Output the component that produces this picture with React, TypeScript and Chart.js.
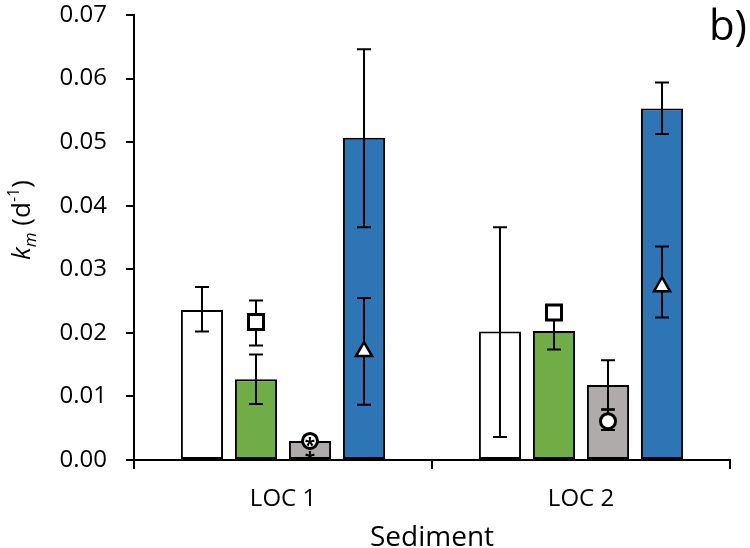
import React, { useEffect, useRef } from "react";
import { Chart, registerables } from "chart.js";

Chart.register(...registerables);

// ---------- data ----------
const categories = ["LOC 1", "LOC 2"];

const whiteValues = [0.0236, 0.0202];
const whiteLow = [0.0202, 0.0036];
const whiteHigh = [0.0272, 0.0366];

const greenValues = [0.0127, 0.0203];
const greenLow = [0.0088, 0.0174];
const greenHigh = [0.0166, 0.0232];

const grayValues = [0.003, 0.0118];
const grayLow: (number | null)[] = [null, 0.0079];
const grayHigh: (number | null)[] = [null, 0.0157];

const blueValues = [0.0507, 0.0553];
const blueLow = [0.0366, 0.0513];
const blueHigh = [0.0646, 0.0594];

// markers (drawn over green, gray and blue bars respectively)
const squareValues = [0.0217, 0.0232];
const squareLow: (number | null)[] = [0.018, null];
const squareHigh: (number | null)[] = [0.0251, null];

const circleValues = [0.003, 0.0061];
const circleLow: (number | null)[] = [null, 0.0047];
const circleHigh: (number | null)[] = [null, 0.008];

const triangleValues = [0.0173, 0.0275];
const triangleLow = [0.0087, 0.0224];
const triangleHigh = [0.0255, 0.0336];

// asterisk annotations on the gray series (LOC 1 only)
const asteriskValues: number[][] = [[0.003, 0.0008], []];

const yMin = 0;
const yMax = 0.07;
const yStep = 0.01;

const FONT = '"Open Sans", "DejaVu Sans", sans-serif';

const barErrors = [
  { series: 0, low: whiteLow, high: whiteHigh },
  { series: 1, low: greenLow, high: greenHigh },
  { series: 2, low: grayLow, high: grayHigh },
  { series: 3, low: blueLow, high: blueHigh },
];

const markers = [
  { series: 1, shape: "square", values: squareValues, low: squareLow, high: squareHigh },
  { series: 2, shape: "circle", values: circleValues, low: circleLow, high: circleHigh },
  { series: 3, shape: "triangle", values: triangleValues, low: triangleLow, high: triangleHigh },
];

const overlayPlugin = {
  id: "overlay",
  afterDatasetsDraw(chart: any) {
    const ctx: CanvasRenderingContext2D = chart.ctx;
    const ys = chart.scales.y;
    const cap = 7;
    const errBar = (x: number, lo: number, hi: number) => {
      const y1 = ys.getPixelForValue(lo);
      const y2 = ys.getPixelForValue(hi);
      ctx.save();
      ctx.strokeStyle = "#000";
      ctx.lineWidth = 2;
      ctx.beginPath();
      ctx.moveTo(x, y1);
      ctx.lineTo(x, y2);
      ctx.moveTo(x - cap, y1);
      ctx.lineTo(x + cap, y1);
      ctx.moveTo(x - cap, y2);
      ctx.lineTo(x + cap, y2);
      ctx.stroke();
      ctx.restore();
    };
    barErrors.forEach((e) => {
      const meta = chart.getDatasetMeta(e.series);
      meta.data.forEach((el: any, j: number) => {
        const lo = e.low[j];
        const hi = e.high[j];
        if (lo != null && hi != null) errBar(el.x, lo, hi);
      });
    });
    markers.forEach((m) => {
      const meta = chart.getDatasetMeta(m.series);
      meta.data.forEach((el: any, j: number) => {
        const lo = m.low[j];
        const hi = m.high[j];
        if (lo != null && hi != null) errBar(el.x, lo, hi);
      });
    });
    markers.forEach((m) => {
      const meta = chart.getDatasetMeta(m.series);
      meta.data.forEach((el: any, j: number) => {
        const x = el.x;
        const y = ys.getPixelForValue(m.values[j]);
        ctx.save();
        ctx.fillStyle = "#fff";
        ctx.strokeStyle = "#000";
        if (m.shape === "square") {
          ctx.lineWidth = 3;
          ctx.beginPath();
          ctx.rect(x - 7.5, y - 7.5, 15, 15);
          ctx.fill();
          ctx.stroke();
        } else if (m.shape === "circle") {
          ctx.lineWidth = 3;
          ctx.beginPath();
          ctx.arc(x, y, 7.5, 0, Math.PI * 2);
          ctx.fill();
          ctx.stroke();
        } else {
          ctx.lineWidth = 2.5;
          ctx.beginPath();
          ctx.moveTo(x, y - 8);
          ctx.lineTo(x + 8, y + 6);
          ctx.lineTo(x - 8, y + 6);
          ctx.closePath();
          ctx.fill();
          ctx.stroke();
        }
        ctx.restore();
      });
    });
    // asterisks
    const grayMeta = chart.getDatasetMeta(2);
    asteriskValues.forEach((vals, j) => {
      const el = grayMeta.data[j];
      vals.forEach((v) => {
        const y = ys.getPixelForValue(v);
        ctx.save();
        ctx.fillStyle = "#000";
        ctx.font = `bold 19px ${FONT}`;
        ctx.textAlign = "center";
        ctx.textBaseline = "alphabetic";
        ctx.fillText("*", el.x, y + 11);
        ctx.restore();
      });
    });
  },
  afterDraw(chart: any) {
    const ctx: CanvasRenderingContext2D = chart.ctx;
    // y axis title: k_m (d^-1)
    const segs = [
      { t: "k", font: `italic 26px ${FONT}`, dy: 0 },
      { t: "m", font: `italic 17px ${FONT}`, dy: 6 },
      { t: " (d", font: `26px ${FONT}`, dy: 0 },
      { t: "-1", font: `16px ${FONT}`, dy: -11 },
      { t: ")", font: `26px ${FONT}`, dy: 0 },
    ];
    ctx.save();
    ctx.fillStyle = "#000";
    ctx.textBaseline = "alphabetic";
    ctx.textAlign = "left";
    let total = 0;
    const widths = segs.map((s) => {
      ctx.font = s.font;
      const w = ctx.measureText(s.t).width;
      total += w;
      return w;
    });
    ctx.translate(30, 220);
    ctx.rotate(-Math.PI / 2);
    let x = -total / 2;
    segs.forEach((s, i) => {
      ctx.font = s.font;
      ctx.fillText(s.t, x, s.dy);
      x += widths[i];
    });
    ctx.restore();

    // panel label
    ctx.save();
    ctx.fillStyle = "#000";
    ctx.font = `42px ${FONT}`;
    ctx.textAlign = "right";
    ctx.textBaseline = "alphabetic";
    ctx.fillText("b)", 747, 40);
    ctx.restore();
  },
};

export default function App() {
  const canvasRef = useRef<HTMLCanvasElement | null>(null);

  useEffect(() => {
    document.body.style.margin = "0";
    const canvas = canvasRef.current;
    if (!canvas) return;
    const common = {
      borderColor: "#000",
      borderWidth: 2,
      borderSkipped: false,
      categoryPercentage: 0.725,
      barPercentage: 0.78,
    };
    const chart = new Chart(canvas, {
      type: "bar",
      data: {
        labels: categories,
        datasets: [
          { label: "white", data: whiteValues, backgroundColor: "#ffffff", ...common },
          { label: "green", data: greenValues, backgroundColor: "#70AD47", ...common },
          { label: "gray", data: grayValues, backgroundColor: "#AFABAB", ...common },
          { label: "blue", data: blueValues, backgroundColor: "#2E75B6", ...common },
        ],
      },
      options: {
        animation: false,
        responsive: true,
        maintainAspectRatio: false,
        layout: { padding: { left: 0, right: 20, top: 15, bottom: 0 } },
        plugins: {
          legend: { display: false },
          tooltip: { enabled: false },
        },
        scales: {
          x: {
            afterFit: (scale: any) => {
              scale.height = 88;
              scale.paddingLeft = 0;
              scale.paddingRight = 0;
            },
            grid: {
              offset: true,
              drawOnChartArea: false,
              drawTicks: true,
              tickLength: 9,
              color: "#000",
              lineWidth: 2,
            },
            border: { display: true, color: "#000", width: 2 },
            ticks: {
              color: "#000",
              padding: 16,
              font: { family: FONT, size: 24 },
            },
            title: {
              display: true,
              text: "Sediment",
              color: "#000",
              font: { family: FONT, size: 28, lineHeight: 1 },
              padding: { top: 0, bottom: -4 },
            },
          },
          y: {
            min: yMin,
            max: yMax,
            afterFit: (scale: any) => {
              scale.width = 134;
              scale.paddingTop = 0;
              scale.paddingBottom = 0;
            },
            grid: {
              drawOnChartArea: false,
              drawTicks: true,
              tickLength: 8,
              color: "#000",
              lineWidth: 2,
            },
            border: { display: true, color: "#000", width: 2 },
            ticks: {
              stepSize: yStep,
              color: "#000",
              padding: 19,
              font: { family: FONT, size: 24 },
              callback: (v: any) => Number(v).toFixed(2),
            },
          },
        },
      },
      plugins: [overlayPlugin],
    } as any);
    return () => chart.destroy();
  }, []);

  return (
    <div style={{ width: 750, height: 548, position: "relative" }}>
      <canvas ref={canvasRef} />
    </div>
  );
}
